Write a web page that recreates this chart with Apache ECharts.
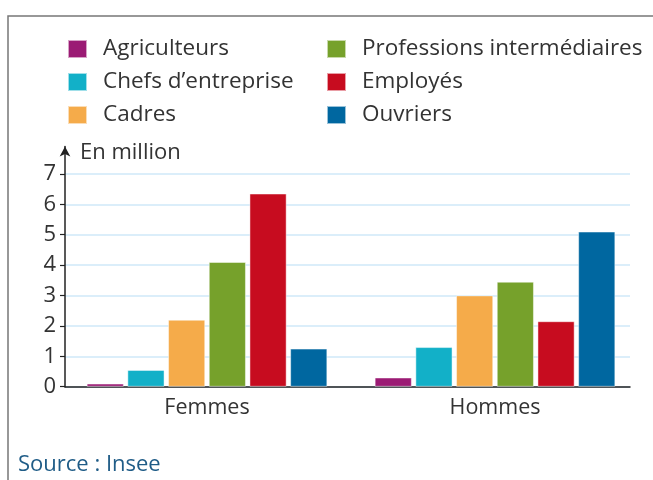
<!DOCTYPE html>
<html>
<head>
<meta charset="utf-8">
<script src="https://cdn.jsdelivr.net/npm/echarts@6/dist/echarts.min.js"></script>
<style>
html,body{margin:0;padding:0;background:#fff;}
#chart{width:653px;height:480px;}
</style>
</head>
<body>
<div id="chart"></div>
<script>
const categories = ['Femmes', 'Hommes'];
const seriesNames = ['Agriculteurs', "Chefs d\u2019entreprise", 'Cadres', 'Professions intermédiaires', 'Employés', 'Ouvriers'];
const agriculteurs = [0.1, 0.3];
const chefs = [0.55, 1.3];
const cadres = [2.2, 3.0];
const professions = [4.1, 3.45];
const employes = [6.35, 2.15];
const ouvriers = [1.25, 5.1];
const yTicks = [0, 1, 2, 3, 4, 5, 6, 7];
const colors = ['#9b1b74', '#12b0c8', '#f5ab4a', '#76a12b', '#c70c1f', '#0067a0'];
const values = [agriculteurs, chefs, cadres, professions, employes, ouvriers];

const FONT = 'Open Sans';
const chart = echarts.init(document.getElementById('chart'));
const yMax = 7.9;

const legendBase = {
  orient: 'vertical',
  itemWidth: 19,
  itemHeight: 18,
  itemGap: 7,
  padding: 0,
  icon: 'rect',
  textStyle: { fontFamily: FONT, fontSize: 22.5, color: '#333', padding: [0, 0, 0, 11], lineHeight: 26 },
  selectedMode: false
};

chart.setOption({
  backgroundColor: '#fff',
  color: colors,
  textStyle: { fontFamily: FONT },
  title: [
    { text: 'En million', left: 80, top: 142, padding: 0,
      textStyle: { fontFamily: FONT, fontSize: 22, fontWeight: 'normal', color: '#333' } },
    { text: 'Source : Insee', left: 18, top: 454, padding: 0,
      textStyle: { fontFamily: FONT, fontSize: 22, fontWeight: 'normal', color: '#1f5c87' } }
  ],
  legend: [
    Object.assign({}, legendBase, { left: 67, top: 36, data: seriesNames.slice(0, 3) }),
    Object.assign({}, legendBase, { left: 326, top: 36, data: seriesNames.slice(3) })
  ],
  graphic: [{
    type: 'polyline',
    shape: { points: [[8, 480], [8, 16], [653, 16]] },
    style: { stroke: '#777', lineWidth: 1.5, fill: null },
    silent: true
  }],
  grid: [
    { left: 63, width: 576, top: 146.5, height: 240.2 },
    { left: 65, width: 565, top: 146.5, height: 240.2 }
  ],
  xAxis: [
    { gridIndex: 0, type: 'category', data: categories,
      axisLine: { show: false }, axisTick: { show: false },
      axisLabel: { fontFamily: FONT, fontSize: 21.5, color: '#333', margin: 10 } },
    { gridIndex: 1, type: 'value', min: 0, max: 1,
      axisLine: { show: true, lineStyle: { color: '#222', width: 1.5 } },
      axisTick: { show: false }, axisLabel: { show: false }, splitLine: { show: false } }
  ],
  yAxis: [
    { gridIndex: 0, type: 'value', min: 0, max: yMax, show: false, splitLine: { show: false } },
    { gridIndex: 1, type: 'value', min: 0, max: yMax, interval: 1,
      axisLine: { show: true, symbol: ['none', 'arrow'], symbolSize: [8, 10], lineStyle: { color: '#222', width: 1.5 } },
      axisTick: { show: true, length: 5, lineStyle: { color: '#222', width: 1.2 } },
      axisLabel: { fontFamily: FONT, fontSize: 22, color: '#333', margin: 9, showMaxLabel: false,
        formatter: v => (yTicks.indexOf(v) >= 0 ? String(v) : '') },
      splitLine: { show: true, showMaxLine: false, lineStyle: { color: '#cfe9f8', width: 1.5 } } }
  ],
  series: seriesNames.map((name, i) => ({
    name: name,
    type: 'bar',
    xAxisIndex: 0,
    yAxisIndex: 0,
    data: values[i],
    barWidth: 37,
    barGap: '10%',
    itemStyle: { color: colors[i], borderColor: 'rgba(255,255,255,0.6)', borderWidth: 0.8 },
    z: 3
  }))
});
</script>
</body>
</html>
